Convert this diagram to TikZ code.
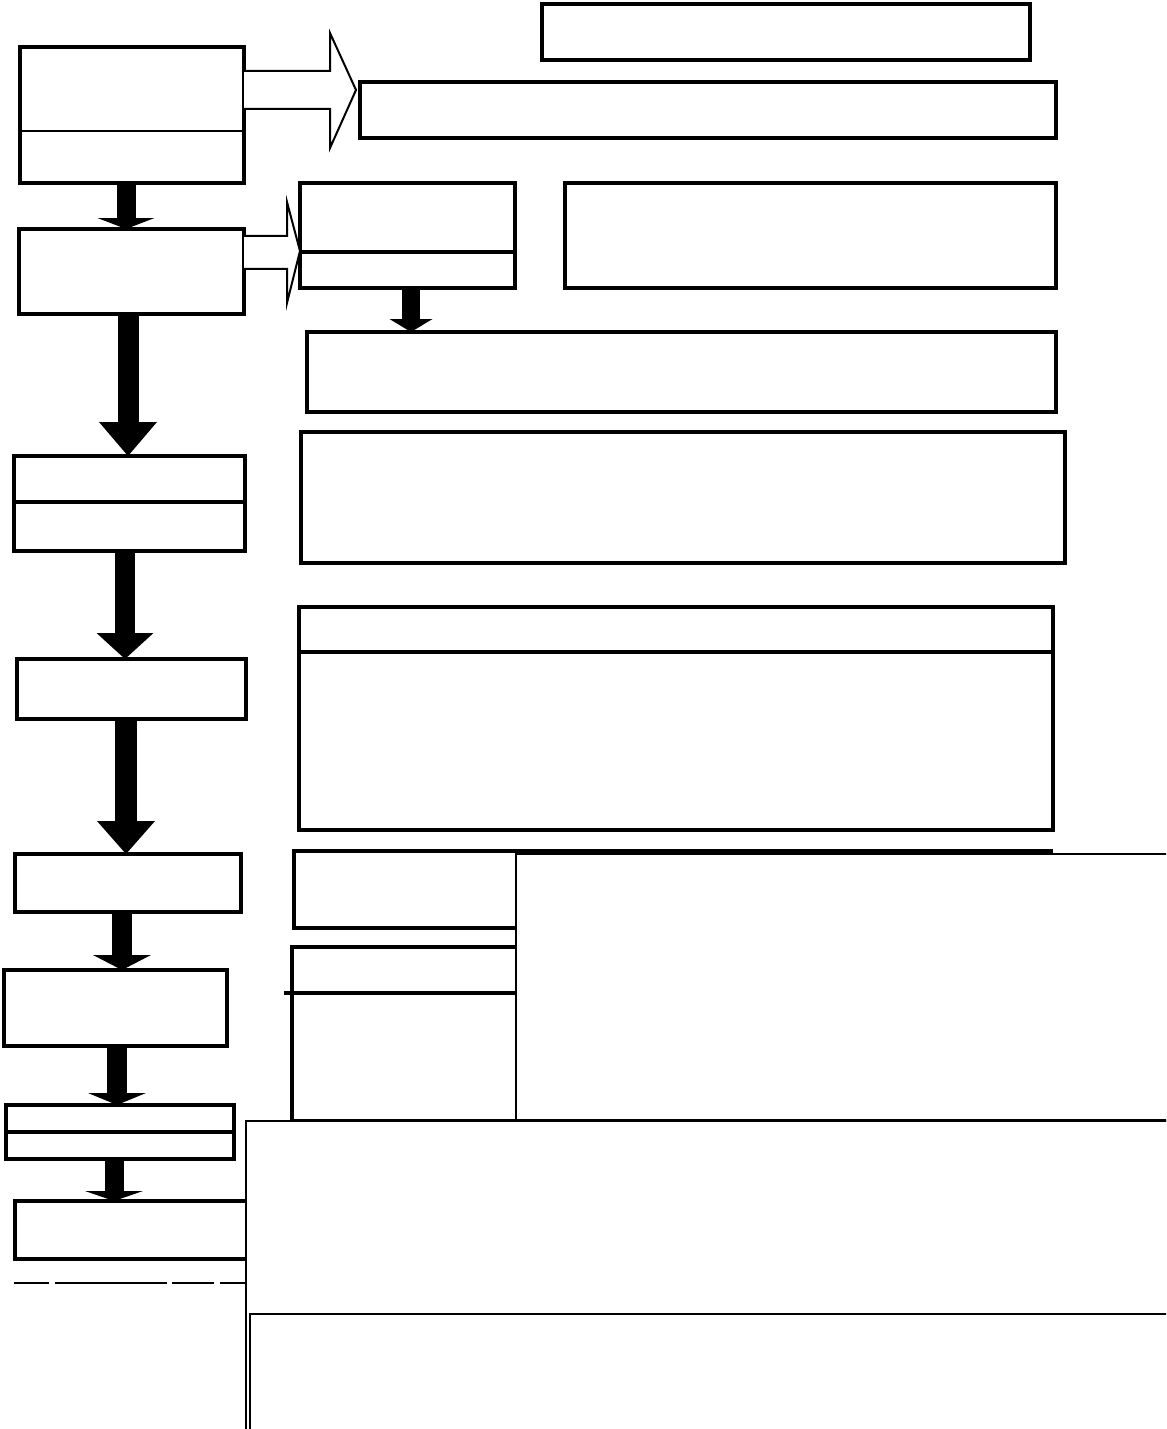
\documentclass[tikz,border=0pt]{standalone}
\usetikzlibrary{arrows.meta}
\tikzset{
  pbox/.style={draw=black, fill=white, line width=0.08cm, inner sep=0pt, outer sep=0pt},
  tbox/.style={draw=black, fill=white, line width=0.04cm, inner sep=0pt, outer sep=0pt},
  div/.style={draw=black, line width=0.07cm},
  thindiv/.style={draw=black, line width=0.04cm},
  hollow/.style={draw=black, fill=white, line width=0.04cm, line join=miter},
  dnarrow/.style n args={3}{line width=#1, -{Triangle[width=#2, length=#3, line width=0pt]}},
  dashline/.style={draw=black, line width=0.03cm, dash pattern=on 0.70cm off 0.12cm on 2.24cm off 0.10cm on 0.84cm off 0.12cm on 0.50cm off 1cm}
}
\newcommand\pbox[6]{\node[#1, minimum width={(#5-#3)*0.02cm}, minimum height={(#6-#4)*0.02cm}] (#2) at ({(#3+#5)/2},{(#4+#6)/2}) {};}
\begin{document}
\begin{tikzpicture}[x=0.02cm, y=-0.02cm]
\useasboundingbox (0,0) rectangle (1166,1429);
\clip (0,0) rectangle (1166,1429);
\fill[white] (0,0) rectangle (1166,1429);

% top right boxes
\pbox{pbox}{t1}{542}{4}{1030}{60}
\pbox{pbox}{t2}{360}{82}{1056}{138}

% left column
\pbox{pbox}{s1}{20}{47}{244}{183}
\draw[thindiv] (s1.west |- 0,131) -- (s1.east |- 0,131);
\pbox{pbox}{s2}{19}{229}{244}{314}
\pbox{pbox}{s3}{14}{456}{245}{551}
\draw[div] (s3.west |- 0,502) -- (s3.east |- 0,502);
\pbox{pbox}{s4}{17}{659}{246}{719}
\pbox{pbox}{s5}{15}{854}{241}{912}
\pbox{pbox}{s6}{4}{970}{227}{1046}
\pbox{pbox}{s7}{6}{1105}{234}{1159}
\draw[div] (8,1132) -- (s7.east |- 0,1132);
\pbox{pbox}{s8}{15}{1201}{270}{1259}

% right side boxes
\pbox{pbox}{c1}{300}{183}{515}{288}
\draw[div] (c1.west |- 0,252) -- (c1.east |- 0,252);
\pbox{pbox}{c2}{565}{183}{1056}{288}
\pbox{pbox}{d}{307}{332}{1056}{412}
\pbox{pbox}{e}{301}{432}{1065}{563}
\pbox{pbox}{f}{299}{607}{1053}{830}
\draw[div] (f.west |- 0,652) -- (f.east |- 0,652);
\pbox{pbox}{g}{294}{851}{1051}{928}
\pbox{pbox}{i}{292}{947}{560}{1121}
\draw[div] (284,993) -- (i.east |- 0,993);
\pbox{tbox}{h}{516}{854}{1185}{1120}
\pbox{tbox}{j}{246}{1121}{1185}{1450}
\pbox{tbox}{k}{250}{1314}{1185}{1450}

% dashed line
\draw[dashline] (14,1283) -- (j.west |- 0,1283);

% hollow arrows
\draw[hollow] (s1.east |- 0,71) -- (330,71) -- (330,33) -- (356,90) -- (330,148) -- (330,109) -- (s1.east |- 0,109);
\draw[hollow] (s2.east |- 0,236) -- (287,236) -- (287,202) -- (300,251) -- (287,303) -- (287,269) -- (s2.east |- 0,269);

% solid down arrows
\draw[dnarrow={0.38cm}{1.14cm}{0.22cm}] (s1.south -| 126,0) -- (s2.north -| 126,0);
\draw[dnarrow={0.42cm}{1.16cm}{0.68cm}] (s2.south -| 128,0) -- (s3.north -| 128,0);
\draw[dnarrow={0.40cm}{1.14cm}{0.52cm}] (s3.south -| 125,0) -- (s4.north -| 125,0);
\draw[dnarrow={0.44cm}{1.16cm}{0.66cm}] (s4.south -| 126,0) -- (s5.north -| 126,0);
\draw[dnarrow={0.42cm}{1.16cm}{0.30cm}] (s5.south -| 122,0) -- (s6.north -| 122,0);
\draw[dnarrow={0.42cm}{1.16cm}{0.24cm}] (s6.south -| 117,0) -- (s7.north -| 117,0);
\draw[dnarrow={0.38cm}{1.16cm}{0.20cm}] (s7.south -| 114,0) -- (s8.north -| 114,0);
\draw[dnarrow={0.36cm}{0.86cm}{0.26cm}] (c1.south -| 411,0) -- (d.north -| 411,0);
\end{tikzpicture}
\end{document}
